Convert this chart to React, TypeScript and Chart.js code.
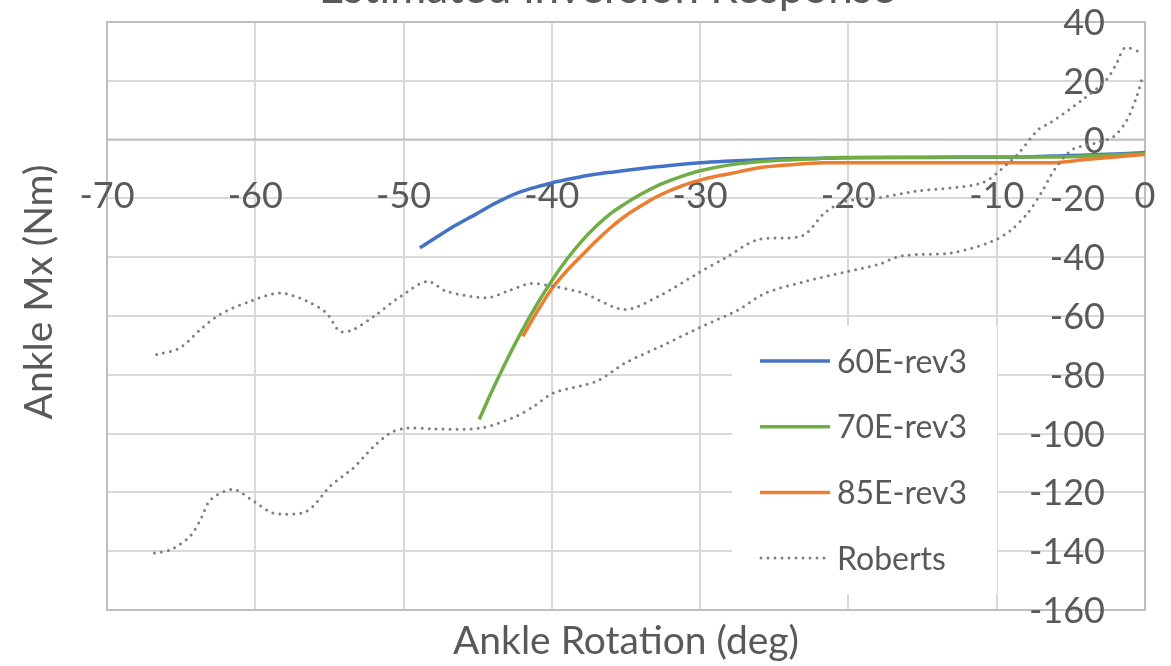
import React, { useEffect, useRef } from "react";
import { Chart, registerables } from "chart.js";

Chart.register(...registerables);

// ---------- texts ----------
const TITLE = "Estimated Inversion Response";
const X_TITLE = "Ankle Rotation (deg)";
const Y_TITLE = "Ankle Mx (Nm)";
const SERIES_NAMES = ["60E-rev3", "70E-rev3", "85E-rev3", "Roberts"];

// ---------- tick labels ----------
const X_TICKS = [-70, -60, -50, -40, -30, -20, -10, 0];
const Y_TICKS = [40, 20, 0, -20, -40, -60, -80, -100, -120, -140, -160];

// ---------- series values ----------
const blueX = [-48.9, -47.6, -46.4, -45.2, -44.2, -43.4, -42.6, -41.7, -40.8, -39.9, -39.0, -38.1, -37.2, -36.2, -35.2, -33.4, -31.7, -30.0, -28.3, -26.6, -24.9, -22.5, -20.0, -16.0, -12.0, -8.0, -5.0, -3.0, -1.5, 0];
const blueY = [-36.8, -32.6, -28.9, -25.6, -22.7, -20.6, -18.7, -17.1, -15.8, -14.6, -13.6, -12.7, -11.9, -11.2, -10.6, -9.5, -8.6, -7.9, -7.4, -7.0, -6.6, -6.4, -6.2, -6.1, -6.0, -5.9, -5.4, -5.1, -4.8, -4.4];

const greenX = [-44.9, -44.0, -43.0, -42.0, -41.0, -40.0, -39.0, -38.0, -37.0, -36.0, -35.0, -34.0, -33.0, -32.0, -31.0, -30.0, -28.0, -26.5, -24.6, -22.7, -20.5, -15.0, -10.0, -6.1, -3.0, 0];
const greenY = [-95.2, -85.1, -74.6, -64.9, -56.0, -48.0, -40.8, -34.6, -29.4, -25.0, -21.6, -18.6, -16.0, -13.9, -12.1, -10.6, -8.6, -7.7, -7.0, -6.6, -6.1, -6.0, -5.9, -5.9, -5.4, -4.8];

const orangeX = [-41.96, -41.0, -40.0, -39.0, -38.0, -37.0, -36.0, -35.0, -34.0, -33.0, -32.0, -31.0, -30.0, -29.4, -28.0, -26.0, -24.0, -21.6, -18.0, -12.0, -6.5, -4.0, -2.0, 0];
const orangeY = [-66.9, -58.6, -50.7, -44.7, -39.5, -34.4, -29.8, -25.8, -22.6, -19.6, -17.3, -15.3, -13.8, -13.0, -11.6, -9.6, -8.6, -7.9, -7.9, -7.9, -7.9, -6.8, -5.9, -5.1];

const robertsUpperX = [-66.65, -65.1, -63.7, -62.4, -60.35, -58.3, -56.5, -55.2, -54.3, -53.4, -52.0, -50.2, -48.4, -47.1, -44.4, -43.0, -41.5, -39.9, -37.9, -35.1, -32.8, -30.1, -28.3, -26.1, -23.1, -21.6, -20.2, -18.0, -15.5, -11.0, -9.2, -8.5, -7.2, -6.4, -4.2, -2.6, -1.9, -1.35, -0.2];
const robertsUpperY = [-73.1, -70.9, -64.6, -59.5, -55.0, -52.2, -55.0, -59.0, -65.2, -64.6, -60.1, -53.3, -48.2, -51.6, -53.8, -51.6, -49.0, -49.9, -52.2, -57.8, -53.3, -45.3, -40.2, -34.0, -32.7, -24.9, -21.0, -19.8, -17.6, -14.7, -7.9, -4.5, 3.4, 5.7, 13.6, 20.4, 26.1, 31.2, 29.5];

const robertsLowerX = [-66.8, -65.7, -64.4, -63.7, -63.0, -61.5, -60.1, -58.8, -56.8, -56.1, -54.96, -53.4, -52.0, -50.9, -49.8, -48.0, -44.8, -42.4, -41.2, -39.9, -37.0, -35.06, -32.4, -30.1, -27.4, -25.6, -22.9, -20.0, -18.0, -16.4, -13.0, -10.3, -9.0, -7.9, -7.0, -6.1, -4.9, -3.3, -2.1, -1.2, -0.56, -0.22];
const robertsLowerY = [-140.6, -139.5, -134.9, -129.3, -122.4, -119.0, -123.0, -127.0, -127.0, -124.7, -117.9, -111.7, -104.3, -99.8, -98.1, -98.4, -98.1, -94.1, -90.7, -86.2, -82.2, -76.0, -69.7, -64.1, -57.8, -52.2, -48.2, -44.8, -42.5, -39.5, -38.5, -34.6, -30.6, -24.9, -18.1, -10.2, -3.4, -1.1, 1.1, 6.8, 14.7, 20.4];

// ---------- styles ----------
const COLORS = ["#4472C4", "#70AD47", "#ED7D31", "#7F7F7F"];
const FONT = "Lato, 'Open Sans', sans-serif";
const TEXT_COLOR = "#595959";
const DOT_DASH = [0, 7];

const toPoints = (xs: number[], ys: number[]) => xs.map((v, i) => ({ x: v, y: ys[i] }));

const decorPlugin = {
  id: "excelDecor",
  beforeDatasetsDraw(chart: any) {
    const { ctx, chartArea: a, scales } = chart;
    const xs = scales.x;
    const ys = scales.y;
    const x0 = xs.getPixelForValue(0);
    const y0 = ys.getPixelForValue(0);
    ctx.save();

    // legend background (covers gridlines)
    const lg = { left: 732, top: 326, width: 265, height: 268 };
    ctx.fillStyle = "#ffffff";
    ctx.fillRect(lg.left, lg.top, lg.width, lg.height);

    // plot border and horizontal axis line
    ctx.strokeStyle = "#bfbfbf";
    ctx.lineWidth = 2;
    ctx.strokeRect(a.left, a.top, a.right - a.left, a.bottom - a.top);
    ctx.beginPath();
    ctx.moveTo(a.left, y0);
    ctx.lineTo(a.right, y0);
    ctx.stroke();

    // tick labels
    ctx.fillStyle = TEXT_COLOR;
    ctx.font = `36px ${FONT}`;
    ctx.textBaseline = "alphabetic";
    ctx.textAlign = "center";
    X_TICKS.forEach((v) => ctx.fillText(String(v), xs.getPixelForValue(v), y0 + 68));
    ctx.textAlign = "right";
    Y_TICKS.forEach((v) => ctx.fillText(String(v), x0 - 40, ys.getPixelForValue(v) + 13));

    // title (mostly cut off at the top)
    ctx.textAlign = "center";
    ctx.font = `44px ${FONT}`;
    ctx.fillText(TITLE, 607, 3);

    // axis titles
    ctx.font = `39px ${FONT}`;
    ctx.fillText(X_TITLE, (a.left + a.right) / 2, 654);
    ctx.save();
    ctx.translate(52, 292);
    ctx.rotate(-Math.PI / 2);
    ctx.fillText(Y_TITLE, 0, 0);
    ctx.restore();

    // legend entries
    ctx.font = `32px ${FONT}`;
    ctx.textAlign = "left";
    SERIES_NAMES.forEach((name, i) => {
      const cy = 361 + i * 65.7;
      ctx.save();
      ctx.strokeStyle = COLORS[i];
      if (i === 3) {
        ctx.lineWidth = 3;
        ctx.lineCap = "round";
        ctx.setLineDash(DOT_DASH);
        ctx.beginPath();
        ctx.moveTo(761, cy);
        ctx.lineTo(826, cy);
        ctx.stroke();
      } else {
        ctx.lineWidth = 3.5;
        ctx.beginPath();
        ctx.moveTo(760, cy);
        ctx.lineTo(830, cy);
        ctx.stroke();
      }
      ctx.restore();
      ctx.fillStyle = TEXT_COLOR;
      ctx.fillText(name, 837, cy + 11.5);
    });

    ctx.restore();
  },
};

export default function App() {
  const canvasRef = useRef<HTMLCanvasElement | null>(null);

  useEffect(() => {
    const canvas = canvasRef.current;
    if (!canvas) return;
    const solid = (i: number, xs: number[], ys: number[], order: number) => ({
      label: SERIES_NAMES[i],
      data: toPoints(xs, ys),
      borderColor: COLORS[i],
      backgroundColor: COLORS[i],
      borderWidth: 3.5,
      pointRadius: 0,
      showLine: true,
      cubicInterpolationMode: "monotone",
      order,
    });
    const chart = new Chart(canvas, {
      type: "scatter",
      data: {
        datasets: [
          solid(0, blueX, blueY, 4),
          solid(1, greenX, greenY, 3),
          solid(2, orangeX, orangeY, 2),
          {
            label: SERIES_NAMES[3],
            data: [
              ...toPoints(robertsUpperX, robertsUpperY),
              { x: NaN, y: NaN },
              ...toPoints(robertsLowerX, robertsLowerY),
            ],
            borderColor: COLORS[3],
            backgroundColor: COLORS[3],
            borderWidth: 3,
            borderDash: DOT_DASH,
            borderCapStyle: "round",
            pointRadius: 0,
            showLine: true,
            spanGaps: false,
            tension: 0.3,
            order: 1,
          },
        ],
      },
      options: {
        responsive: false,
        animation: false,
        devicePixelRatio: 1,
        layout: { padding: { left: 107, top: 22, right: 26, bottom: 56 } },
        plugins: {
          legend: { display: false },
          title: { display: false },
          tooltip: { enabled: false },
        },
        events: [],
        scales: {
          x: {
            type: "linear",
            min: -70,
            max: 0,
            ticks: { display: false, stepSize: 10 },
            grid: { color: "#d9d9d9", lineWidth: 2, drawTicks: false },
            border: { display: false },
          },
          y: {
            type: "linear",
            min: -160,
            max: 40,
            ticks: { display: false, stepSize: 20 },
            grid: { color: "#d9d9d9", lineWidth: 2, drawTicks: false },
            border: { display: false },
          },
        },
      },
      plugins: [decorPlugin],
    } as any);
    return () => chart.destroy();
  }, []);

  return (
    <div style={{ position: "fixed", left: 0, top: 0, width: 1171, height: 666, background: "#fff" }}>
      <canvas ref={canvasRef} width={1171} height={666} style={{ display: "block" }} />
    </div>
  );
}
